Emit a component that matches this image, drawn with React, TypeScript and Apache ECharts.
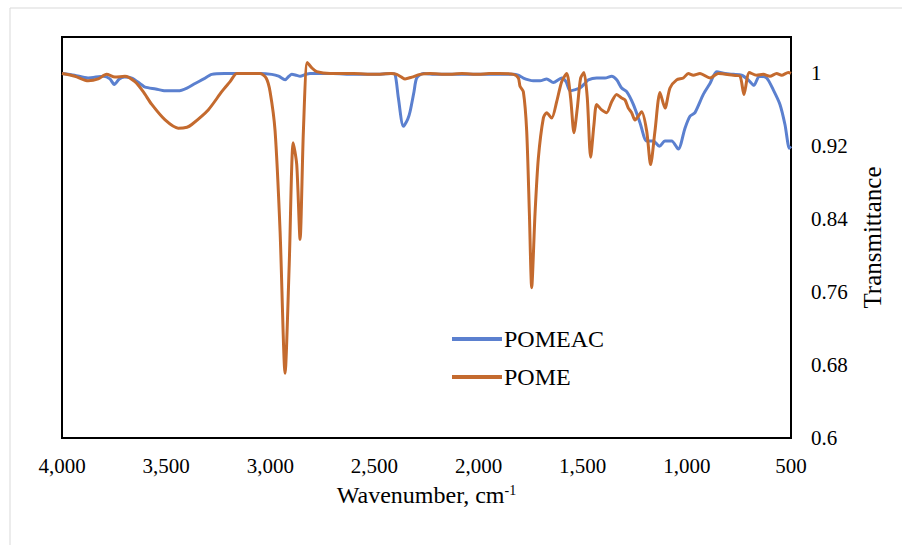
import React, { useEffect, useRef } from "react";
import * as echarts from "echarts";

const xTicks = [4000, 3500, 3000, 2500, 2000, 1500, 1000, 500];
const yTicks = [0.6, 0.68, 0.76, 0.84, 0.92, 1];

const pomeacWn = [4000, 3940, 3875, 3800, 3770, 3749, 3725, 3700, 3665, 3620, 3601, 3550, 3505, 3442, 3400, 3361, 3320, 3281, 3220, 3155, 3050, 2993, 2960, 2929, 2910, 2897, 2875, 2857, 2830, 2809, 2700, 2600, 2500, 2420, 2401, 2385, 2361, 2340, 2329, 2310, 2297, 2265, 2200, 2100, 2000, 1900, 1833, 1810, 1785, 1760, 1737, 1705, 1673, 1641, 1601, 1580, 1561, 1540, 1513, 1490, 1473, 1433, 1393, 1361, 1337, 1313, 1289, 1257, 1225, 1193, 1161, 1132, 1105, 1073, 1041, 1009, 985, 961, 921, 889, 857, 817, 777, 737, 705, 678, 652, 617, 585, 553, 529, 508, 500];
const pomeacT = [1.0, 0.998, 0.995, 0.997, 0.994, 0.988, 0.994, 0.996, 0.995, 0.988, 0.985, 0.983, 0.981, 0.981, 0.984, 0.989, 0.994, 0.999, 1.0, 1.0, 1.0, 0.999, 0.997, 0.993, 0.997, 0.999, 0.998, 0.997, 0.999, 1.0, 1.0, 0.999, 0.999, 1.0, 0.999, 0.973, 0.942, 0.95, 0.958, 0.98, 0.995, 1.0, 0.999, 0.999, 0.999, 0.999, 0.999, 0.998, 0.995, 0.993, 0.992, 0.992, 0.994, 0.99, 0.995, 0.991, 0.981, 0.982, 0.984, 0.989, 0.993, 0.995, 0.995, 0.997, 0.993, 0.984, 0.98, 0.966, 0.946, 0.926, 0.926, 0.92, 0.926, 0.926, 0.917, 0.94, 0.953, 0.957, 0.977, 0.989, 1.002, 1.0, 0.999, 0.998, 0.993, 0.987, 0.997, 0.995, 0.982, 0.966, 0.944, 0.918, 0.92];

const pomeWn = [4000, 3938, 3874, 3826, 3786, 3746, 3698, 3650, 3610, 3569, 3505, 3442, 3400, 3377, 3298, 3233, 3193, 3161, 3100, 3049, 3020, 3001, 2977, 2953, 2929, 2909, 2890, 2873, 2857, 2841, 2822, 2800, 2777, 2713, 2600, 2500, 2420, 2393, 2370, 2353, 2320, 2281, 2233, 2150, 2080, 2000, 1950, 1900, 1833, 1809, 1801, 1785, 1769, 1756, 1745, 1729, 1713, 1689, 1673, 1649, 1625, 1601, 1577, 1558, 1542, 1526, 1510, 1494, 1478, 1462, 1446, 1433, 1409, 1385, 1361, 1337, 1313, 1297, 1281, 1265, 1249, 1217, 1193, 1174, 1153, 1129, 1105, 1081, 1049, 1017, 993, 969, 937, 889, 849, 777, 745, 726, 700, 665, 633, 601, 569, 545, 513, 500];
const pomeT = [1.0, 0.997, 0.992, 0.994, 0.999, 0.996, 0.997, 0.991, 0.98, 0.966, 0.949, 0.94, 0.941, 0.944, 0.96, 0.98, 0.991, 1.0, 1.0, 1.0, 0.995, 0.98, 0.937, 0.827, 0.671, 0.791, 0.924, 0.9, 0.818, 0.937, 1.012, 1.006, 1.002, 1.0, 1.0, 0.999, 1.0, 0.999, 0.996, 0.994, 0.996, 0.999, 1.0, 0.999, 1.0, 0.999, 1.0, 1.0, 0.999, 0.995, 0.986, 0.98, 0.937, 0.846, 0.765, 0.846, 0.907, 0.951, 0.957, 0.951, 0.969, 0.991, 1.0, 0.973, 0.935, 0.962, 0.995, 1.001, 0.973, 0.908, 0.944, 0.966, 0.96, 0.957, 0.969, 0.977, 0.973, 0.971, 0.962, 0.957, 0.949, 0.958, 0.937, 0.9, 0.937, 0.979, 0.962, 0.984, 0.993, 0.995, 1.0, 0.998, 1.0, 0.995, 1.0, 0.998, 0.997, 0.977, 1.001, 0.998, 0.999, 0.997, 1.0, 0.998, 1.001, 1.0];

const FONT = "Liberation Serif";

export default function App() {
  const ref = useRef<HTMLDivElement>(null);
  useEffect(() => {
    if (!ref.current) return;
    const chart = echarts.init(ref.current, null, { renderer: "svg" });
    const zip = (a: number[], b: number[]) => a.map((v, i) => [v, b[i]]);
    chart.setOption({
      animation: false,
      backgroundColor: "#ffffff",
      textStyle: { fontFamily: FONT, color: "#000" },
      graphic: [
        {
          type: "rect",
          shape: { x: 10, y: 8, width: 1000, height: 1000 },
          style: { fill: "none", stroke: "#d9d9d9", lineWidth: 1 },
          silent: true,
        },
      ],
      grid: {
        left: 62,
        right: 111,
        top: 37,
        bottom: 107,
        show: true,
        borderColor: "#000",
        borderWidth: 2,
        containLabel: false,
      },
      legend: {
        orient: "vertical",
        left: 447,
        top: 322,
        itemGap: 14,
        itemWidth: 50,
        itemHeight: 4,
        icon: "rect",
        textStyle: { fontFamily: FONT, fontSize: 24, color: "#000", padding: [0, 0, 0, -3] },
        data: ["POMEAC", "POME"],
      },
      xAxis: {
        type: "value",
        inverse: true,
        min: 500,
        max: 4000,
        interval: 500,
        name: "Wavenumber, cm{sup|-1}",
        nameLocation: "middle",
        nameGap: 45,
        nameTextStyle: {
          fontFamily: FONT,
          fontSize: 24,
          color: "#000",
          rich: { sup: { fontFamily: FONT, fontSize: 14, verticalAlign: "top", padding: [0, 0, 10, 0], color: "#000" } },
        },
        axisLine: { show: true, lineStyle: { color: "#000", width: 2 } },
        axisTick: { show: false },
        splitLine: { show: false },
        axisLabel: {
          fontFamily: FONT,
          fontSize: 21,
          color: "#000",
          margin: 17,
          formatter: (v: number) => (xTicks.includes(v) ? v.toLocaleString("en-US") : ""),
        },
      },
      yAxis: {
        type: "value",
        position: "right",
        min: 0.6,
        max: 1.04,
        interval: 0.08,
        name: "Transmittance",
        nameLocation: "middle",
        nameRotate: 90,
        nameGap: 69,
        nameTextStyle: { fontFamily: FONT, fontSize: 25, color: "#000" },
        axisLine: { show: true, lineStyle: { color: "#000", width: 2 } },
        axisTick: { show: false },
        splitLine: { show: false },
        axisLabel: {
          fontFamily: FONT,
          fontSize: 21,
          color: "#000",
          margin: 20,
          showMaxLabel: false,
          formatter: (v: number) => {
            const r = +v.toFixed(2);
            return yTicks.some((t) => Math.abs(t - r) < 1e-6) ? String(r) : "";
          },
        },
      },
      series: [
        {
          name: "POMEAC",
          type: "line",
          data: zip(pomeacWn, pomeacT),
          showSymbol: false,
          symbol: "none",
          smooth: 0.25,
          lineStyle: { color: "#5B80CF", width: 3 },
          itemStyle: { color: "#5B80CF" },
          z: 2,
        },
        {
          name: "POME",
          type: "line",
          data: zip(pomeWn, pomeT),
          showSymbol: false,
          symbol: "none",
          smooth: 0.25,
          lineStyle: { color: "#C46A2E", width: 3 },
          itemStyle: { color: "#C46A2E" },
          z: 3,
        },
      ],
    });
    return () => chart.dispose();
  }, []);
  return (
    <div
      ref={ref}
      style={{ position: "fixed", left: 0, top: 0, width: 902, height: 545, background: "#fff" }}
    />
  );
}
